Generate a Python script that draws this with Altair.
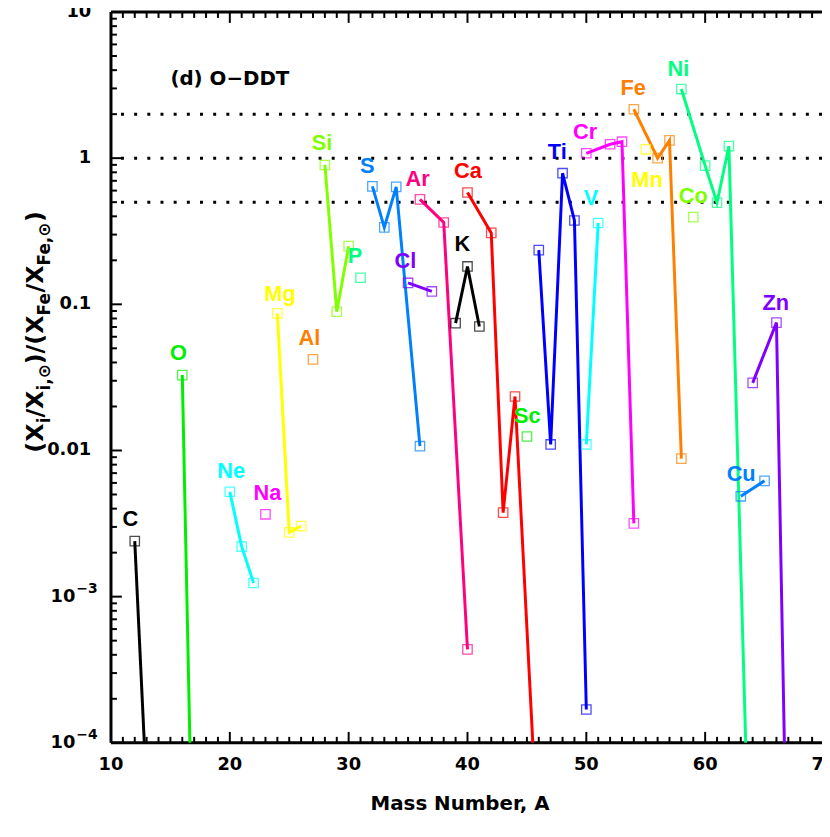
import altair as alt
import pandas as pd

# ---------------- data ----------------
iso_element = ["C", "C", "O", "O", "Ne", "Ne", "Ne", "Na", "Mg", "Mg", "Mg", "Al",
               "Si", "Si", "Si", "P", "S", "S", "S", "S", "Cl", "Cl", "Ar", "Ar", "Ar",
               "K", "K", "K", "Ca", "Ca", "Ca", "Ca", "Ca", "Sc",
               "Ti", "Ti", "Ti", "Ti", "Ti", "V", "V", "Cr", "Cr", "Cr", "Cr", "Mn",
               "Fe", "Fe", "Fe", "Fe", "Co", "Ni", "Ni", "Ni", "Ni", "Ni",
               "Cu", "Cu", "Zn", "Zn", "Zn"]
iso_A = [12, 13, 16, 17, 20, 21, 22, 23, 24, 25, 26, 27,
         28, 29, 30, 31, 32, 33, 34, 36, 35, 37, 36, 38, 40,
         39, 40, 41, 40, 42, 43, 44, 46, 45,
         46, 47, 48, 49, 50, 50, 51, 50, 52, 53, 54, 55,
         54, 56, 57, 58, 59, 58, 60, 61, 62, 64,
         63, 65, 64, 66, 67]
iso_ratio = [2.40e-3, 4.6e-5, 0.0328, 3.9e-6, 5.22e-3, 2.2e-3, 1.24e-3, 3.66e-3,
             0.0867, 2.75e-3, 3.04e-3, 0.042,
             0.898, 0.089, 0.25, 0.152, 0.641, 0.336, 0.636, 0.0107, 0.140, 0.1225,
             0.522, 0.363, 4.36e-4,
             0.0743, 0.1816, 0.0705, 0.582, 0.308, 3.76e-3, 0.0234, 1.6e-5, 0.01247,
             0.235, 0.011, 0.789, 0.3746, 1.69e-4, 0.011, 0.36, 1.08, 1.245, 1.296,
             3.17e-3, 1.15,
             2.16, 1.0, 1.324, 8.8e-3, 0.395, 2.97, 0.889, 0.496, 1.21, 2.0e-6,
             4.86e-3, 6.2e-3, 0.029, 0.075, 3.6e-6]

elements = ["C", "O", "Ne", "Na", "Mg", "Al", "Si", "P", "S", "Cl", "Ar", "K",
            "Ca", "Sc", "Ti", "V", "Cr", "Mn", "Fe", "Co", "Ni", "Cu", "Zn"]
element_colors = ["#000000", "#00ee00", "#00ffff", "#ff00ff", "#ffff00", "#ff8000",
                  "#80ff00", "#00ff80", "#0080ff", "#8000ff", "#ff0080", "#000000",
                  "#ff0000", "#00ee00", "#0000ff", "#00ffff", "#ff00ff", "#ffff00",
                  "#ff8000", "#80ff00", "#00ff80", "#0080ff", "#8000ff"]
label_A = [11.64, 15.67, 20.11, 23.17, 24.22, 26.69, 27.75, 30.53, 31.56, 34.78,
           35.81, 39.56, 40.03, 45.03, 47.56, 50.39, 49.89, 55.11, 53.94, 59.0,
           57.75, 63.03, 65.94]
label_ratio = [3.37e-3, 0.0461, 7.24e-3, 5.13e-3, 0.118, 0.0588, 1.264, 0.214,
               0.889, 0.198, 0.723, 0.257, 0.822, 0.01726, 1.093, 0.530, 1.506,
               0.712, 2.995, 0.55, 4.08, 6.89e-3, 0.1023]

dotted_levels = [0.5, 1.0, 2.0]
xtick_values = [10, 20, 30, 40, 50, 60, 70]
xtick_labels = ["10", "20", "30", "40", "50", "60", "70"]
ytick_values = [10, 1, 0.1, 0.01]
ytick_labels = ["10", "1", "0.1", "0.01"]
yexp_values = [1e-3, 1e-4]
yexp_labels = ["\u22123", "\u22124"]
panel_label = ["(d) O\u2212DDT"]
panel_A = [15.0]
panel_ratio = [3.48]

x_minor = [v for v in range(11, 70) if v % 10 != 0]
x_major = [10, 20, 30, 40, 50, 60]
y_major = [1e-4, 1e-3, 1e-2, 1e-1, 1.0, 10.0]
y_minor = [k * 10.0 ** e for e in range(-4, 1) for k in range(2, 10)]

# ---------------- layout ----------------
W, H = 718, 738
FONT = "DejaVu Sans"
x_scale = alt.Scale(domain=[10, 10 + W / 12.0], nice=False, zero=False)
y_scale = alt.Scale(type="log", domain=[1e-4, 10], nice=False)
color_scale = alt.Scale(domain=elements, range=element_colors)

x_axis = alt.Axis(labels=False, domain=False, ticks=False, grid=False,
                  title="Mass Number, A", titleFont=FONT, titleFontSize=20,
                  titleFontWeight="bold", titleColor="black", titleY=67, titleX=352,
                  titleBaseline="alphabetic")

iso_df = pd.DataFrame({"element": iso_element, "A": iso_A, "ratio": iso_ratio})
lab_df = pd.DataFrame({"element": elements, "A": label_A, "ratio": label_ratio})
one = pd.DataFrame({"z": [0]})

X = alt.X("A:Q", scale=x_scale, axis=x_axis)
Y = alt.Y("ratio:Q", scale=y_scale, axis=None)
C = alt.Color("element:N", scale=color_scale, legend=None)

lines = alt.Chart(iso_df).mark_line(strokeWidth=3, clip=True).encode(
    x=X, y=Y, color=C, detail="element:N")
squares = alt.Chart(iso_df).mark_point(shape="square", size=90, filled=False,
                                       strokeWidth=1.3, opacity=0.7, clip=True).encode(
    x=X, y=Y, color=C)
labels = alt.Chart(lab_df).mark_text(font="Liberation Sans", fontSize=22,
                                     fontWeight="bold", align="center",
                                     baseline="middle").encode(
    x=X, y=Y, color=C, text="element:N")

dots = alt.Chart(pd.DataFrame({"ratio": dotted_levels})).mark_rule(
    color="black", strokeWidth=3, strokeDash=[3, 10.3]).encode(y=Y)

panel = alt.Chart(pd.DataFrame({"A": panel_A, "ratio": panel_ratio,
                                "t": panel_label})).mark_text(
    font=FONT, fontSize=20, fontWeight="bold", align="left", baseline="middle",
    color="black").encode(x=X, y=Y, text="t:N")

# frame
frame = [
    alt.Chart(one).mark_rule(color="black", strokeWidth=3).encode(
        x=alt.value(0), y=alt.value(0), y2=alt.value(H)),
    alt.Chart(one).mark_rule(color="black", strokeWidth=3).encode(
        x=alt.value(0), x2=alt.value(W), y=alt.value(0)),
    alt.Chart(one).mark_rule(color="black", strokeWidth=3).encode(
        x=alt.value(0), x2=alt.value(W), y=alt.value(H)),
]

# ticks (inward)
def xticks(vals, y0, y1):
    return alt.Chart(pd.DataFrame({"A": vals})).mark_rule(
        color="black", strokeWidth=2).encode(x=X, y=alt.value(y0), y2=alt.value(y1))

def yticks(vals, length):
    return alt.Chart(pd.DataFrame({"ratio": vals})).mark_rule(
        color="black", strokeWidth=2).encode(y=Y, x=alt.value(0), x2=alt.value(length))

ticks = [xticks(x_minor, H, H - 6), xticks(x_major, H, H - 11),
         xticks(x_minor, 0, 6), xticks(x_major, 0, 11),
         yticks(y_minor, 6), yticks(y_major, 11)]

# x tick labels (the last one is cut by the page edge, as in the reference)
xlab = alt.Chart(pd.DataFrame({"A": xtick_values, "t": xtick_labels})).mark_text(
    font=FONT, fontSize=18, fontWeight="bold", align="center", baseline="middle",
    color="black").encode(x=X, y=alt.value(H + 22), text="t:N")

# y tick labels
ylab = alt.Chart(pd.DataFrame({"ratio": ytick_values, "t": ytick_labels})).mark_text(
    font=FONT, fontSize=18, fontWeight="bold", align="right", baseline="middle",
    color="black").encode(y=Y, x=alt.value(-20), text="t:N")
ylab_base = alt.Chart(pd.DataFrame({"ratio": yexp_values})).mark_text(
    font=FONT, fontSize=18, fontWeight="bold", align="right", baseline="middle",
    color="black", text="10").encode(y=Y, x=alt.value(-36))
ylab_exp = alt.Chart(pd.DataFrame({"ratio": yexp_values, "t": yexp_labels})).mark_text(
    font=FONT, fontSize=14, fontWeight="bold", align="left", baseline="middle",
    color="black", dy=-8).encode(y=Y, x=alt.value(-35), text="t:N")

# y title built from pieces (main text and subscripts), reading bottom to top
title_pieces = [("(X", 453.0, 24, False), ("i", 423.4, 17, True),
                ("/X", 417.6, 24, False), ("i,\u2299", 390.2, 17, True),
                (")/(X", 363.7, 24, False), ("Fe", 314.4, 17, True),
                ("/X", 291.3, 24, False), ("Fe,\u2299", 263.9, 17, True),
                (")", 220.1, 24, False)]
ytitle = []
for txt, ypage, fs, sub in title_pieces:
    ytitle.append(alt.Chart(one).mark_text(
        font=FONT, fontSize=fs, fontWeight="bold", align="left",
        baseline="alphabetic", angle=270, color="black", text=txt).encode(
        x=alt.value(-62 if sub else -69), y=alt.value(ypage - 8)))

chart = alt.layer(
    *frame, *ticks, dots, lines, squares, labels, panel, xlab, ylab, ylab_base,
    ylab_exp, *ytitle
).properties(
    width=W, height=H,
    autosize=alt.AutoSizeParams(type="none"),
    padding={"left": 104, "top": 0, "right": 0, "bottom": 83},
    background="white",
).configure_view(stroke=None)

chart.save("out.html", embed_options={"renderer": "svg", "actions": False})
